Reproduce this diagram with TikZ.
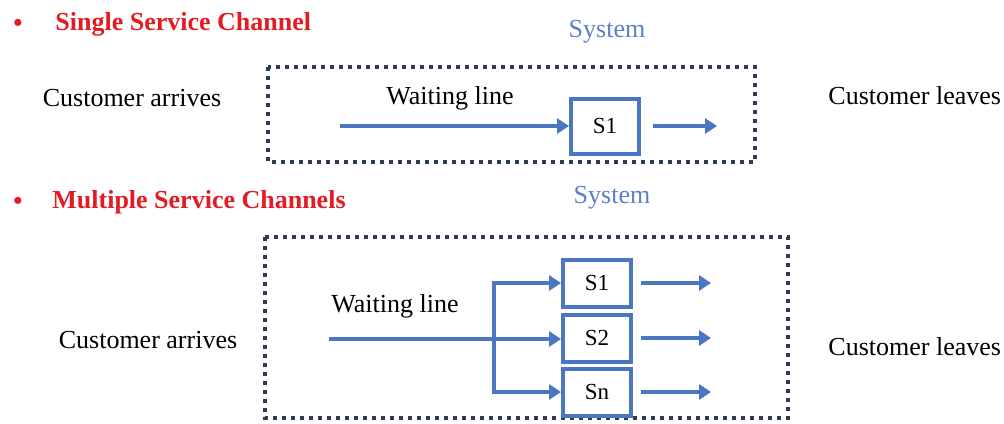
\documentclass[tikz,border=0pt]{standalone}
\usepackage{fontspec}
\setmainfont{Liberation Serif}
\usetikzlibrary{arrows.meta,positioning}
\definecolor{colorln}{HTML}{4A76C2}
\definecolor{colorsys}{HTML}{5B80C8}
\definecolor{colorhd}{HTML}{E31B23}
\definecolor{colordot}{HTML}{2E3B55}
\tikzset{
  txt/.style={font=\fontsize{13}{15}\selectfont, inner sep=0pt},
  title/.style={inner sep=0pt, font=\fontsize{13}{15}\selectfont\bfseries, text=colorhd, anchor=west},
  sysl/.style={txt, text=colorsys},
  srv/.style={draw=colorln, line width=2pt, minimum width=34pt, font=\fontsize{11.5}{13}\selectfont},
  flow/.style={colorln, line width=2pt, -{Triangle[length=6pt,width=7.5pt]}},
  forkln/.style={colorln, line width=2pt, line cap=rect},
  sysbox/.style={colordot, line width=2pt, dash pattern=on 2pt off 2.5pt}
}
\begin{document}
\begin{tikzpicture}[x=0.5pt, y=-0.5pt]
\useasboundingbox (0,0) rectangle (1004,423);
% single service channel
\node[title] (b1) at (13,25) {\textbullet};
\node[title] (h1) at (55,24) {Single Service Channel};
\node[sysl] (sy1) at (607,32) {System};
\draw[sysbox] (268,67) rectangle (755,162);
\node[txt] (ca1) at (132,98) {Customer arrives};
\node[txt] (wl1) at (450,98) {Waiting line};
\node[srv, minimum height=27.5pt] (s1) at (605,126) {S1};
\node[txt, anchor=west] (cl1) at (828,96) {Customer leaves};
\coordinate (in1) at (340,126);
\coordinate (out1) at (717,126);
\draw[flow] (in1) -- (s1.west);
\draw[flow] ([xshift=6pt]s1.east) -- (out1);
% multiple service channels
\node[title] (b2) at (13,203) {\textbullet};
\node[title] (h2) at (52,202) {Multiple Service Channels};
\node[sysl] (sy2) at (612,198) {System};
\draw[sysbox] (265,237) rectangle (788,418);
\node[txt] (ca2) at (148,340) {Customer arrives};
\node[txt] (wl2) at (395,306) {Waiting line};
\node[srv, minimum height=23.5pt] (m1) at (597,283) {S1};
\node[srv, minimum height=23.5pt] (m2) at (597,338) {S2};
\node[srv, minimum height=23.5pt] (mn) at (597,392) {Sn};
\node[txt, anchor=west] (cl2) at (828,347) {Customer leaves};
\coordinate (in2) at (329,339);
\coordinate (fork) at (494,339);
\draw[flow] (in2) -- (in2 -| m2.west);
\draw[forkln] (fork |- m1) -- (fork |- mn);
\draw[flow] (fork |- m1.west) -- (m1.west);
\draw[flow] (fork |- mn.west) -- (mn.west);
\foreach \s in {m1,m2,mn}
  \draw[flow] ([xshift=4pt]\s.east) -- ++(70,0);
\end{tikzpicture}
\end{document}
